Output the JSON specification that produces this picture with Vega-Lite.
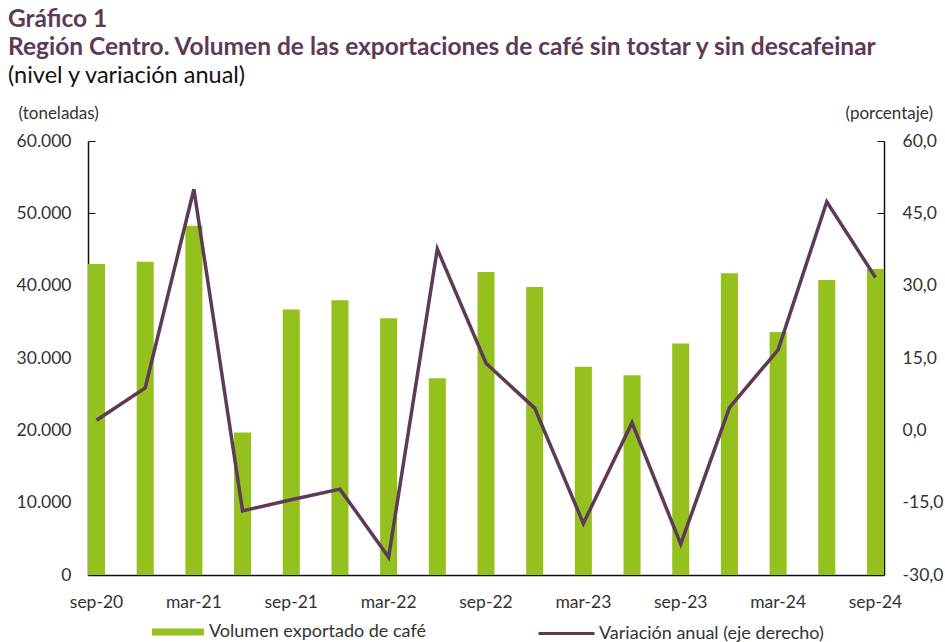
{
  "$schema": "https://vega.github.io/schema/vega-lite/v6.json",
  "autosize": {"type": "none"},
  "width": 796,
  "height": 434,
  "padding": {"left": 88, "top": 141, "right": 61, "bottom": 67},
  "background": "white",
  "title": {
    "text": ["Gráfico 1", "Región Centro. Volumen de las exportaciones de café sin tostar y sin descafeinar"],
    "subtitle": "(nivel y variación anual)",
    "anchor": "start",
    "frame": "group",
    "dx": -80,
    "offset": 16,
    "font": "Lato",
    "fontSize": 24.5,
    "fontWeight": "bold",
    "color": "#5e3a56",
    "lineHeight": 28,
    "subtitleFont": "Lato",
    "subtitleFontSize": 23.5,
    "subtitleColor": "#111111",
    "subtitlePadding": 3
  },
  "config": {
    "locale": {"number": {"decimal": ",", "thousands": ".", "grouping": [3], "currency": ["", " €"], "minus": "-"}},
    "view": {"stroke": null},
    "axis": {"grid": false, "labelFont": "Lato", "labelFontSize": 17.5, "labelColor": "#333333", "domainColor": "#111111", "tickColor": "#111111", "titleFont": "Lato", "titleFontSize": 17, "titleFontWeight": "normal", "titleColor": "#333333"},
    "legend": {"labelFont": "Lato", "labelFontSize": 18, "labelColor": "#333333", "labelLimit": 500}
  },
  "data": {"values": [
    {"q": "sep-20", "vol": 43000, "var": 2.1},
    {"q": "dic-20", "vol": 43300, "var": 8.8},
    {"q": "mar-21", "vol": 48300, "var": 50.0},
    {"q": "jun-21", "vol": 19700, "var": -16.7},
    {"q": "sep-21", "vol": 36700, "var": -14.4},
    {"q": "dic-21", "vol": 38000, "var": -12.2},
    {"q": "mar-22", "vol": 35500, "var": -26.3},
    {"q": "jun-22", "vol": 27200, "var": 37.6},
    {"q": "sep-22", "vol": 41900, "var": 13.9},
    {"q": "dic-22", "vol": 39800, "var": 4.6},
    {"q": "mar-23", "vol": 28800, "var": -19.3},
    {"q": "jun-23", "vol": 27600, "var": 1.6},
    {"q": "sep-23", "vol": 32000, "var": -23.6},
    {"q": "dic-23", "vol": 41700, "var": 4.7},
    {"q": "mar-24", "vol": 33600, "var": 16.7},
    {"q": "jun-24", "vol": 40800, "var": 47.4},
    {"q": "sep-24", "vol": 42300, "var": 31.7}
  ]},
  "encoding": {
    "x": {
      "field": "q", "type": "nominal", "sort": null,
      "scale": {"type": "band", "paddingInner": 0.65, "paddingOuter": 0},
      "axis": {
        "title": null, "labelAngle": 0, "ticks": false, "labelPadding": 18, "domainWidth": 1.5,
        "labelOverlap": false,
        "labelExpr": "indexof(['sep','mar'], substring(datum.label,0,3)) >= 0 ? datum.label : ''"
      }
    }
  },
  "layer": [
    {
      "mark": {"type": "bar"},
      "encoding": {
        "y": {
          "field": "vol", "type": "quantitative",
          "scale": {"domain": [0, 60000], "nice": false, "zero": true},
          "axis": {
            "title": "(toneladas)", "titleAngle": 0, "titleAlign": "left", "titleBaseline": "middle",
            "titleX": -70, "titleY": -28,
            "values": [0, 10000, 20000, 30000, 40000, 50000, 60000],
            "format": ",.0f", "tickSize": -7, "labelPadding": 24, "domainWidth": 1.5
          }
        },
        "fill": {
          "datum": "Volumen exportado de café",
          "scale": {"range": ["#95c11f"]},
          "legend": {
            "title": null, "orient": "none", "legendX": 64, "legendY": 465,
            "symbolType": "M-1,-0.135H1V0.135H-1Z", "symbolSize": 2704,
            "symbolStrokeWidth": 0, "labelOffset": 5, "padding": 0
          }
        }
      }
    },
    {
      "mark": {"type": "line", "strokeWidth": 3.5},
      "encoding": {
        "y": {
          "field": "var", "type": "quantitative",
          "scale": {"domain": [-30, 60], "nice": false, "zero": false},
          "axis": {
            "orient": "right",
            "title": "(porcentaje)", "titleAngle": 0, "titleAlign": "left", "titleBaseline": "middle",
            "titleX": -39, "titleY": -28,
            "values": [-30, -15, 0, 15, 30, 45, 60],
            "format": ".1f", "tickSize": -7, "labelPadding": 25, "domainWidth": 1.5
          }
        },
        "stroke": {
          "datum": "Variación anual (eje derecho)",
          "scale": {"range": ["#5e3a56"]},
          "legend": {
            "title": null, "orient": "none", "legendX": 449, "legendY": 463,
            "symbolType": "stroke", "symbolSize": 3136, "symbolStrokeWidth": 3,
            "labelOffset": 3, "padding": 0
          }
        }
      }
    }
  ],
  "resolve": {"scale": {"y": "independent"}}
}
